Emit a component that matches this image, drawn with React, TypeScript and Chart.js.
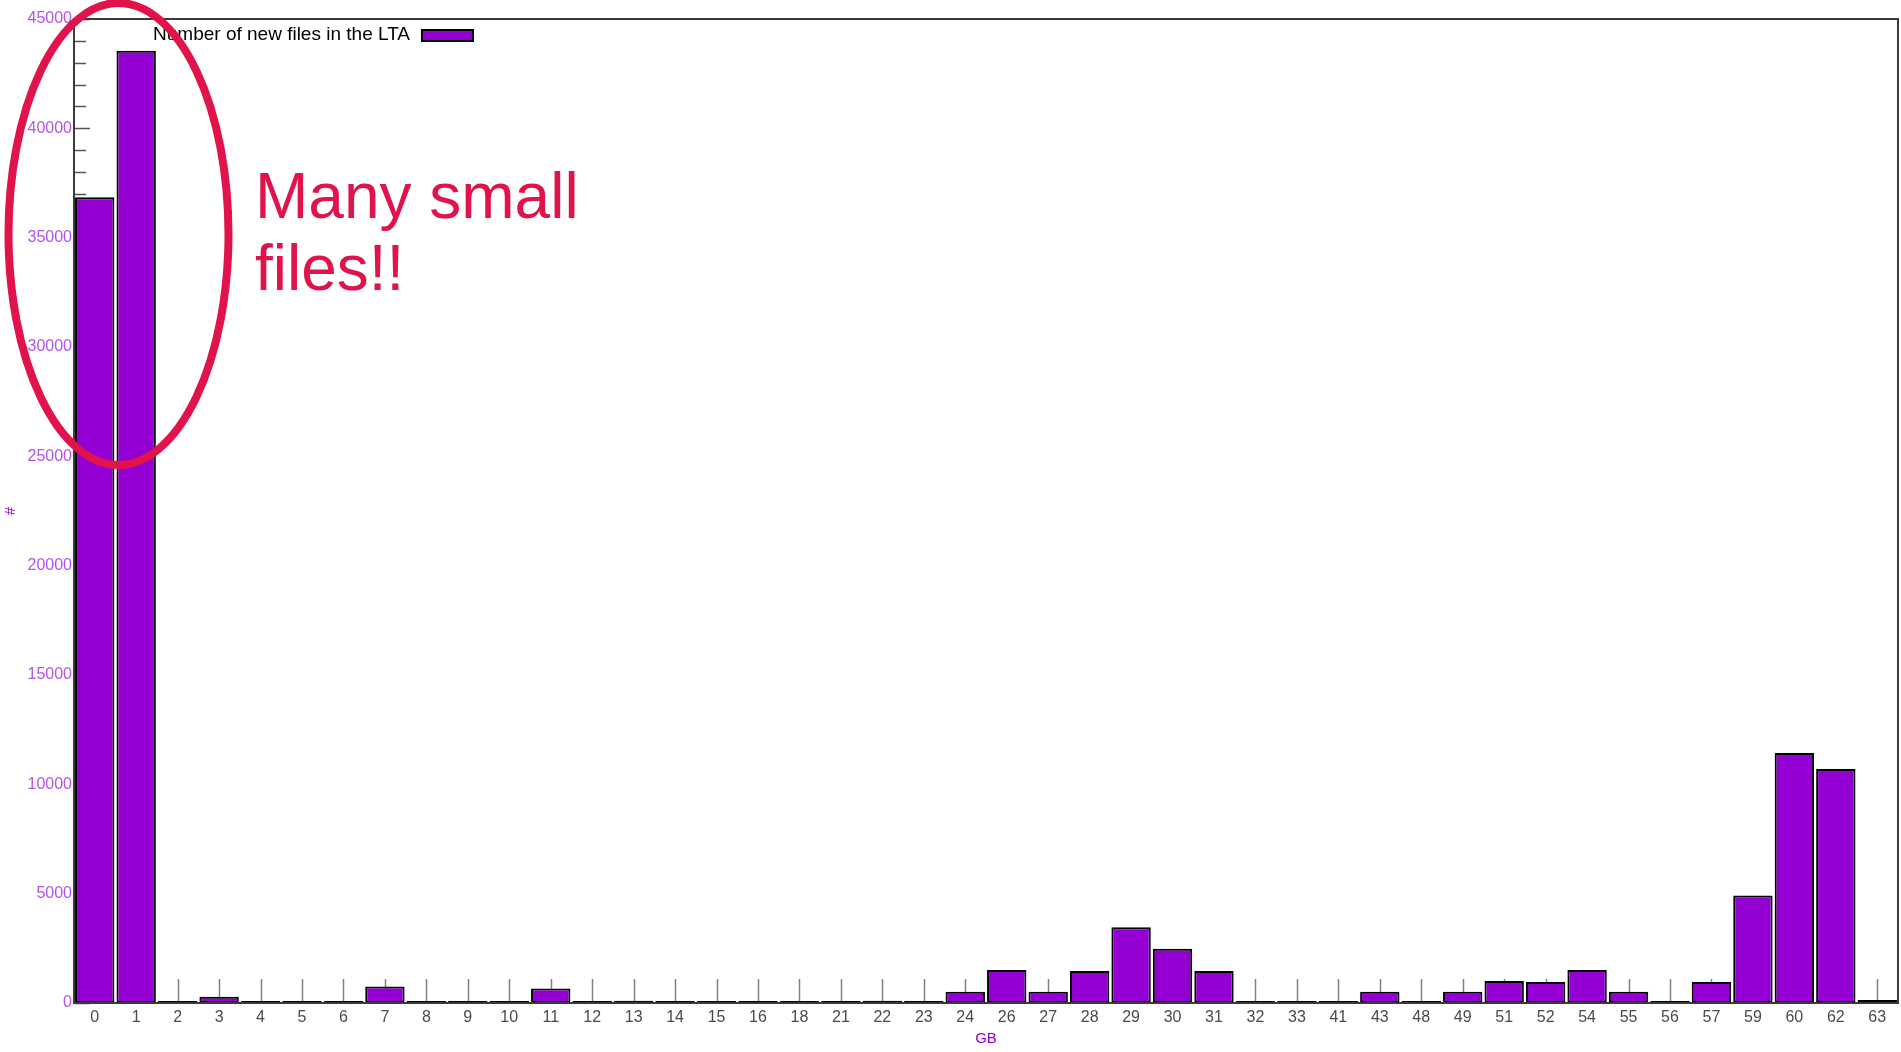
import React, { useEffect, useRef } from "react";
import { Chart, registerables } from "chart.js";

Chart.register(...registerables);

// ---- data ----
const categories = [
  "0", "1", "2", "3", "4", "5", "6", "7", "8", "9", "10", "11", "12", "13", "14", "15", "16",
  "18", "21", "22", "23", "24", "26", "27", "28", "29", "30", "31", "32", "33", "41", "43",
  "48", "49", "51", "52", "54", "55", "56", "57", "59", "60", "62", "63",
];
const fileCounts = [
  36850, 43550, 50, 290, 10, 10, 10, 750, 10, 10, 10, 660, 10, 100, 10, 10, 10,
  60, 10, 100, 10, 510, 1510, 510, 1465, 3460, 2485, 1465, 10, 10, 10, 510,
  10, 510, 1010, 965, 1510, 510, 10, 965, 4920, 11430, 10700, 140,
];
const legendLabel = "Number of new files in the LTA";
const xTitle = "GB";
const yTitle = "#";
const yMin = 0;
const yMax = 45000;
const yMajorStep = 5000;
const yMinorStep = 1000;
const annotationLines = ["Many small", "files!!"];

const BAR_COLOR = "#9400d3";
const RED = "#e0134a";

const decorPlugin = {
  id: "decor",
  beforeDatasetsDraw(chart: any) {
    const { ctx, chartArea, scales } = chart;
    const xs = scales.x;
    const ys = scales.y;
    ctx.save();
    // x tics (upward from baseline)
    ctx.strokeStyle = "#808080";
    ctx.lineWidth = 1.5;
    for (let i = 0; i < categories.length; i++) {
      const px = Math.round(xs.getPixelForValue(i)) + 0.5;
      ctx.beginPath();
      ctx.moveTo(px, chartArea.bottom);
      ctx.lineTo(px, chartArea.bottom - 24);
      ctx.stroke();
    }
    // y tics (inward)
    ctx.strokeStyle = "#555555";
    ctx.lineWidth = 1.5;
    for (let v = yMin; v <= yMax; v += yMinorStep) {
      const py = Math.round(ys.getPixelForValue(v)) + 0.5;
      const len = v % yMajorStep === 0 ? 16 : 12;
      ctx.beginPath();
      ctx.moveTo(chartArea.left, py);
      ctx.lineTo(chartArea.left + len, py);
      ctx.stroke();
    }
    ctx.restore();
  },
  afterDatasetsDraw(chart: any) {
    const { ctx, chartArea } = chart;
    ctx.save();
    ctx.strokeStyle = "#3a3a3a";
    ctx.lineWidth = 2;
    ctx.strokeRect(
      chartArea.left,
      chartArea.top,
      chartArea.right - chartArea.left,
      chartArea.bottom - chartArea.top
    );
    // legend (text right-aligned before the sample box)
    const boxLeft = chartArea.left + 348;
    const boxTop = chartArea.top + 11;
    const midY = chartArea.top + 16;
    ctx.font = '19px "Liberation Sans", Arial, sans-serif';
    ctx.fillStyle = "#000000";
    ctx.textAlign = "right";
    ctx.textBaseline = "middle";
    ctx.fillText(legendLabel, boxLeft - 12, midY);
    ctx.fillStyle = BAR_COLOR;
    ctx.fillRect(boxLeft, boxTop, 51, 11);
    ctx.strokeStyle = "#000000";
    ctx.lineWidth = 2;
    ctx.strokeRect(boxLeft, boxTop, 51, 11);
    ctx.restore();
  },
};

function BarChart() {
  const ref = useRef<HTMLCanvasElement | null>(null);
  useEffect(() => {
    if (!ref.current) return;
    const chart = new Chart(ref.current, {
      type: "bar",
      data: {
        labels: categories,
        datasets: [
          {
            label: legendLabel,
            data: fileCounts,
            backgroundColor: BAR_COLOR,
            borderColor: "#000000",
            borderWidth: 2,
            borderSkipped: false,
            minBarLength: 2,
            barPercentage: 0.95,
            categoryPercentage: 1.0,
          },
        ],
      },
      options: {
        responsive: false,
        maintainAspectRatio: false,
        animation: false,
        layout: { padding: { top: 19, right: 3, left: 0, bottom: 0 } },
        plugins: {
          legend: { display: false },
          tooltip: { enabled: false },
        },
        scales: {
          x: {
            type: "category",
            offset: true,
            grid: { display: false, drawTicks: false },
            border: { display: false },
            ticks: {
              autoSkip: false,
              maxRotation: 0,
              minRotation: 0,
              padding: 5,
              color: "#4a4a4a",
              font: { family: '"Liberation Sans Narrow", "Liberation Sans", Arial, sans-serif', size: 16 },
            },
            title: {
              display: true,
              text: xTitle,
              color: BAR_COLOR,
              padding: { top: 4, bottom: 4 },
              font: { family: '"Liberation Sans", Arial, sans-serif', size: 15 },
            },
            afterFit(scale: any) {
              scale.height = 49;
            },
          },
          y: {
            min: yMin,
            max: yMax,
            grid: { display: false, drawTicks: false, tickLength: 0 },
            border: { display: false },
            ticks: {
              stepSize: yMajorStep,
              padding: 2,
              color: "#b452f0",
              font: { family: '"Liberation Sans", Arial, sans-serif', size: 16 },
              callback: (value: any) => String(value),
            },
            title: {
              display: true,
              text: yTitle,
              color: BAR_COLOR,
              padding: { top: 2, bottom: 0 },
              font: { family: '"Liberation Sans", Arial, sans-serif', size: 15 },
            },
            afterFit(scale: any) {
              scale.width = 74;
            },
          },
        },
      },
      plugins: [decorPlugin],
    });
    return () => chart.destroy();
  }, []);
  return (
    <canvas
      ref={ref}
      width={1901}
      height={1052}
      style={{ position: "absolute", left: 0, top: 0, width: 1901, height: 1052 }}
    />
  );
}

export default function App() {
  return (
    <div
      style={{
        position: "fixed",
        left: 0,
        top: 0,
        width: 1901,
        height: 1052,
        background: "#ffffff",
        overflow: "hidden",
      }}
    >
      <BarChart />
      <svg
        width={1901}
        height={1052}
        style={{ position: "absolute", left: 0, top: 0, pointerEvents: "none" }}
      >
        <ellipse cx={118.5} cy={234} rx={110} ry={231} fill="none" stroke={RED} strokeWidth={8} />
      </svg>
      <div
        style={{
          position: "absolute",
          left: 255,
          top: 160,
          color: RED,
          fontFamily: '"Liberation Sans", Arial, sans-serif',
          fontSize: 64,
          lineHeight: "72px",
          whiteSpace: "nowrap",
        }}
      >
        {annotationLines.map((l, i) => (
          <div key={i}>{l}</div>
        ))}
      </div>
    </div>
  );
}
